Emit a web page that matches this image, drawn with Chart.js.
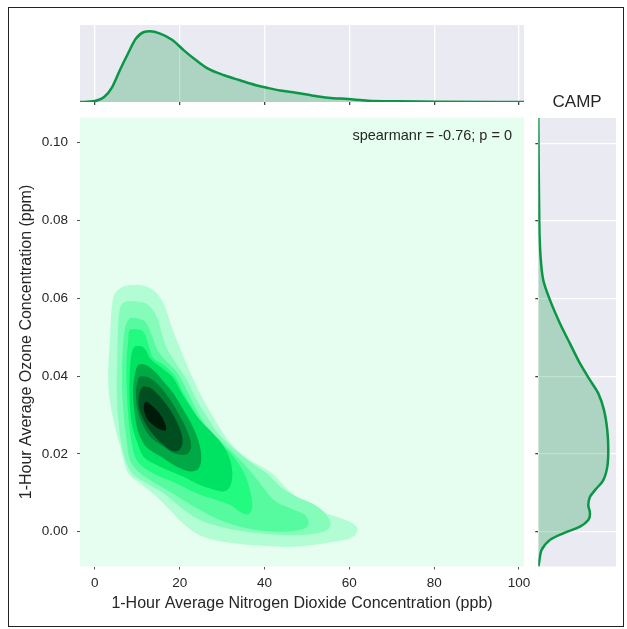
<!DOCTYPE html>
<html>
<head>
<meta charset="utf-8">
<script src="https://cdn.jsdelivr.net/npm/chart.js@4.4.0/dist/chart.umd.min.js"></script>
<style>
  html, body { margin: 0; padding: 0; background: #fff; }
  #wrap { position: relative; width: 627px; height: 629px; overflow: hidden; }
  canvas { position: absolute; left: 0; top: 0; }
  #frame { position: absolute; left: 8px; top: 7px; width: 614px; height: 618px; border: 1.5px solid #222; }
</style>
</head>
<body>
<div id="wrap">
  <div id="frame"></div>
  <canvas id="main" width="627" height="629"></canvas>
  <canvas id="top" width="627" height="629"></canvas>
  <canvas id="right" width="627" height="629"></canvas>
</div>
<script>
const xTicks = [0, 20, 40, 60, 80, 100];
const yTicks = [0.00, 0.02, 0.04, 0.06, 0.08, 0.10];

// KDE contour levels [NO2 ppb, O3 ppm], outermost first
const contour1 = [[8.3,0.0634],[10.7,0.0634],[13.8,0.0621],[16.2,0.0587],[18.1,0.0527],[20.9,0.045],[23.3,0.039],[25.6,0.0339],[29.5,0.0266],[32.7,0.0219],[36.6,0.0184],[41.3,0.0154],[46.0,0.0103],[50.0,0.0073],[54.7,0.0047],[59.6,0.0028],[61.9,0.0009],[60.9,-0.0013],[56.3,-0.0026],[46.8,-0.0039],[32.7,-0.003],[25.6,-0.0013],[21.7,0.0013],[17.7,0.0056],[14.6,0.009],[10.7,0.0124],[7.9,0.015],[6.0,0.0219],[4.4,0.0287],[3.2,0.0373],[3.6,0.0501],[4.4,0.0604],[6.0,0.0626]];
const contour2 = [[7.2,0.0591],[10.3,0.0591],[12.6,0.0583],[14.6,0.0553],[15.8,0.051],[17.0,0.0471],[18.9,0.0437],[21.7,0.039],[24.0,0.0339],[26.4,0.0296],[29.1,0.0253],[32.7,0.0214],[36.6,0.018],[40.5,0.015],[43.7,0.0116],[47.6,0.009],[51.5,0.0071],[54.5,0.0045],[55.6,0.0017],[54.2,0.0001],[48.4,-0.0009],[39.0,-0.0004],[31.1,0.0009],[24.8,0.003],[20.1,0.0064],[16.2,0.0099],[12.3,0.0124],[9.1,0.0146],[7.5,0.0176],[6.4,0.0219],[5.6,0.0279],[5.2,0.0347],[5.3,0.0459],[5.6,0.0544],[6.1,0.0579]];
const contour3 = [[8.3,0.0549],[9.9,0.0549],[11.9,0.054],[13.4,0.0506],[14.6,0.0471],[16.2,0.0446],[19.3,0.0411],[21.7,0.0364],[24.0,0.0313],[26.4,0.027],[30.3,0.0227],[33.5,0.0193],[35.8,0.0167],[39.0,0.0124],[42.6,0.0078],[46.8,0.0057],[49.6,0.0042],[50.4,0.0019],[48.6,0.0005],[42.9,0.0],[35.8,0.0009],[29.5,0.003],[24.8,0.0056],[20.9,0.0081],[17.0,0.0107],[13.0,0.0133],[10.3,0.0154],[8.3,0.0184],[7.5,0.0236],[6.8,0.0304],[6.4,0.039],[6.6,0.0467],[7.2,0.0527]];
const contour4 = [[8.3,0.0519],[10.7,0.0519],[11.9,0.0506],[12.9,0.0471],[13.8,0.0446],[16.2,0.0429],[18.9,0.0399],[20.9,0.0356],[23.3,0.0313],[25.6,0.027],[28.8,0.0236],[31.6,0.0206],[33.8,0.0176],[35.6,0.0141],[36.8,0.0095],[37.1,0.0062],[36.2,0.0045],[34.4,0.005],[32.3,0.0067],[28.8,0.0081],[24.0,0.0099],[19.3,0.0124],[15.4,0.0141],[12.3,0.0159],[9.9,0.0184],[8.7,0.0227],[7.9,0.0296],[7.5,0.0373],[7.5,0.0441],[7.9,0.0493]];
const contour5 = [[9.5,0.0476],[11.1,0.0476],[12.1,0.0465],[13.0,0.0446],[15.4,0.0424],[18.2,0.0399],[20.1,0.0364],[22.5,0.0321],[24.8,0.0287],[27.8,0.0253],[30.2,0.0222],[31.7,0.019],[32.4,0.0155],[32.1,0.0122],[30.9,0.0105],[28.8,0.0106],[24.8,0.012],[20.9,0.0141],[17.0,0.0159],[13.8,0.0176],[11.5,0.0193],[10.1,0.0227],[8.7,0.0279],[8.2,0.0347],[8.3,0.0416],[8.7,0.0459]];
const contour6 = [[10.3,0.0429],[11.9,0.0429],[14.2,0.0411],[16.2,0.0386],[18.5,0.0356],[20.9,0.0313],[23.1,0.027],[24.6,0.0227],[25.1,0.0188],[24.4,0.0161],[22.5,0.0155],[19.3,0.0167],[16.2,0.0189],[13.0,0.021],[11.5,0.0227],[10.1,0.0261],[9.3,0.0313],[9.0,0.0364],[9.5,0.0407]];
const contour7 = [[10.7,0.0399],[12.6,0.0397],[15.4,0.0373],[17.8,0.0339],[20.1,0.0296],[22.0,0.0253],[22.7,0.0218],[21.7,0.0199],[18.9,0.0201],[16.2,0.0219],[13.4,0.024],[11.5,0.027],[10.1,0.0313],[9.7,0.0356],[10.1,0.0386]];
const contour8 = [[11.3,0.0373],[13.0,0.0371],[15.4,0.0347],[17.8,0.0313],[19.7,0.0274],[20.7,0.0238],[20.1,0.0212],[18.5,0.0207],[16.2,0.0223],[13.8,0.0249],[11.9,0.0279],[10.5,0.0317],[10.4,0.0351]];
const contour9 = [[12.3,0.0334],[14.6,0.0313],[16.2,0.0287],[16.8,0.0262],[15.4,0.0263],[13.8,0.0274],[12.4,0.0289],[11.6,0.0313],[11.7,0.033]];

// marginal KDE of NO2 (top)
const no2Grid = [-3.5, 0, 2.2, 4.1, 5.9, 7.8, 9.7, 11.6, 13.0, 15.4, 18.2, 21.0, 23.9, 26.7, 30.5, 34.2, 38.0, 40.8, 43.7, 47.4, 51.2, 55.0, 59.7, 64.4, 71.9, 81.4, 101.2];
const no2Density = [0, 0.0004, 0.0022, 0.0066, 0.014, 0.0213, 0.028, 0.0309, 0.0312, 0.0302, 0.0275, 0.0228, 0.0184, 0.0147, 0.0118, 0.0096, 0.0074, 0.0062, 0.0051, 0.0041, 0.0029, 0.0019, 0.0013, 0.0006, 0.0003, 0.0001, 0];

// marginal KDE of O3 (right)
const ozoneGrid = [0.1066, 0.0793, 0.0707, 0.0647, 0.0596, 0.0536, 0.0484, 0.0433, 0.039, 0.0356, 0.0313, 0.0261, 0.021, 0.0167, 0.0133, 0.0107, 0.009, 0.0069, 0.0047, 0.003, 0.0013, -0.0004, -0.0021, -0.0047, -0.0081, -0.009];
const ozoneDensity = [0, 0.5, 1.15, 2.5, 5.85, 10.85, 15.85, 20.85, 25.85, 30, 32.85, 34.5, 35, 34.5, 32.5, 28.35, 25.85, 25, 25.85, 25, 20.85, 12.5, 5.85, 1.65, 0.35, 0];

const levelColors = ['#b2fdd3', '#85fcba', '#56fb9f', '#22fa80', '#00e262', '#00a946', '#007f33', '#004e1f', '#001a0a'];
const contours = [contour1, contour2, contour3, contour4, contour5, contour6, contour7, contour8, contour9];

Chart.defaults.font.family = '"Liberation Sans", Arial, sans-serif';
Chart.defaults.color = '#262626';
Chart.defaults.animation = false;
Chart.defaults.plugins.legend.display = false;
Chart.defaults.plugins.tooltip.enabled = false;

const xMin = -3.49, xMax = 101.18;
const yMin = -0.00895, yMax = 0.1065;
const lineGreen = '#0a9645';
const shadeGreen = 'rgba(10,150,69,0.27)';

const plotBg = {
	id: 'plotBg',
	beforeDraw(chart, args, opts){
		const a = chart.chartArea;
		const ctx = chart.ctx;
		ctx.save();
		ctx.fillStyle = opts.color;
		ctx.fillRect(a.left, a.top, a.right - a.left, a.bottom - a.top);
		ctx.restore();
	}
};

const statText = {
	id: 'statText',
	afterDatasetsDraw(chart, args, opts){
		const a = chart.chartArea;
		const ctx = chart.ctx;
		ctx.save();
		ctx.font = '14.5px "Liberation Sans", Arial, sans-serif';
		ctx.fillStyle = '#262626';
		ctx.textAlign = 'right';
		ctx.textBaseline = 'middle';
		ctx.fillText(opts.text, a.right - 12, a.top + 18.5);
		ctx.restore();
	}
};

function fixedTicks(values){
	return function(scale){
		scale.ticks = values.map(v => ({value: v}));
	};
}

// main joint KDE, each level closed by repeating its first two points
let datasets = [];
for(let i = 0; i < contours.length; i++){
	let pts = contours[i].concat([contours[i][0], contours[i][1]]);
	datasets.push({
		data: pts.map(p => ({x: p[0], y: p[1]})),
		showLine: true,
		fill: 'shape',
		backgroundColor: levelColors[i],
		borderColor: levelColors[i],
		borderWidth: 0,
		pointRadius: 0,
		tension: 0.35,
		order: contours.length - i
	});
}

new Chart(document.getElementById('main'), {
	type: 'scatter',
	data: {datasets: datasets},
	options: {
		responsive: false,
		layout: {padding: {top: 117.5, right: 103, left: 0, bottom: 0}},
		scales: {
			x: {
				min: xMin, max: xMax,
				afterBuildTicks: fixedTicks(xTicks),
				afterFit: s => { s.height = 62.5; },
				border: {display: false},
				grid: {drawOnChartArea: false, tickLength: 3, tickColor: '#555'},
				ticks: {font: {size: 13.5}, padding: 6, color: '#262626'},
				title: {display: true, text: '1-Hour Average Nitrogen Dioxide Concentration (ppb)', font: {size: 16}, padding: {bottom: 16}, color: '#262626'}
			},
			y: {
				min: yMin, max: yMax,
				afterBuildTicks: fixedTicks(yTicks),
				afterFit: s => { s.width = 80; },
				border: {display: false},
				grid: {drawOnChartArea: false, tickLength: 3, tickColor: '#555'},
				ticks: {font: {size: 13.5}, padding: 9, color: '#262626', callback: v => v.toFixed(2)},
				title: {display: true, text: '1-Hour Average Ozone Concentration (ppm)', font: {size: 16}, padding: {top: 17}, color: '#262626'}
			}
		},
		plugins: {
			plotBg: {color: '#e5fef0'},
			statText: {text: 'spearmanr = -0.76; p = 0'}
		}
	},
	plugins: [plotBg, statText]
});

// top marginal
new Chart(document.getElementById('top'), {
	type: 'scatter',
	data: {datasets: [{
		data: no2Grid.map((v, i) => ({x: v, y: no2Density[i]})),
		showLine: true,
		fill: 'origin',
		backgroundColor: shadeGreen,
		borderColor: lineGreen,
		borderWidth: 2.5,
		pointRadius: 0,
		cubicInterpolationMode: 'monotone'
	}]},
	options: {
		responsive: false,
		layout: {padding: {top: 25, right: 103, left: 80, bottom: 527}},
		scales: {
			x: {
				min: xMin, max: xMax,
				afterBuildTicks: fixedTicks(xTicks),
				afterFit: s => { s.height = 0; },
				border: {display: false},
				grid: {color: '#ffffff', lineWidth: 1.3, tickLength: 3, tickColor: '#444'},
				ticks: {display: false}
			},
			y: {min: 0, max: 0.034, display: false}
		},
		plugins: {plotBg: {color: '#eaeaf2'}}
	},
	plugins: [plotBg]
});

// right marginal
new Chart(document.getElementById('right'), {
	type: 'scatter',
	data: {datasets: [{
		data: ozoneGrid.map((v, i) => ({x: ozoneDensity[i], y: v})),
		showLine: true,
		fill: 'shape',
		backgroundColor: shadeGreen,
		borderColor: lineGreen,
		borderWidth: 2.5,
		pointRadius: 0,
		tension: 0.3
	}]},
	options: {
		responsive: false,
		layout: {padding: {top: 92.5, right: 11, left: 538.3, bottom: 62.5}},
		scales: {
			x: {min: 0, max: 38.85, display: false},
			y: {
				min: yMin, max: yMax,
				afterBuildTicks: fixedTicks(yTicks),
				afterFit: s => { s.width = 0; },
				border: {display: false},
				grid: {color: '#ffffff', lineWidth: 1.3, tickLength: 3, tickColor: '#444'},
				ticks: {display: false}
			}
		},
		plugins: {
			plotBg: {color: '#eaeaf2'},
			title: {display: true, text: 'CAMP', font: {size: 17, weight: 'normal'}, color: '#262626', padding: {top: 0, bottom: 5}}
		}
	},
	plugins: [plotBg]
});
</script>
</body>
</html>
